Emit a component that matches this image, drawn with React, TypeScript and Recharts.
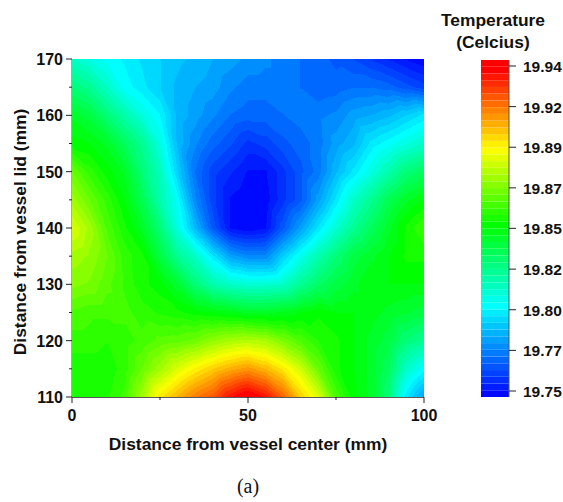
import { Bar, BarChart, Scatter, ScatterChart, XAxis, YAxis } from "recharts";

const xNodes = [0, 5, 10, 15, 20, 25, 30, 35, 40, 45, 50, 55, 60, 65, 70, 75, 80, 85, 90, 95, 100];
const yNodes = [170, 165, 160, 155, 150, 145, 140, 135, 130, 125, 120, 115, 110];

// temperature, one row per yNodes entry
const row170 = [19.81, 19.805, 19.8, 19.797, 19.793, 19.79, 19.787, 19.785, 19.782, 19.78, 19.777, 19.775, 19.772, 19.77, 19.768, 19.765, 19.762, 19.758, 19.754, 19.75, 19.747];
const row165 = [19.825, 19.82, 19.81, 19.8, 19.795, 19.79, 19.785, 19.782, 19.78, 19.775, 19.772, 19.772, 19.772, 19.77, 19.767, 19.768, 19.77, 19.77, 19.768, 19.764, 19.76];
const row160 = [19.84, 19.835, 19.825, 19.815, 19.806, 19.798, 19.785, 19.78, 19.775, 19.77, 19.768, 19.768, 19.77, 19.772, 19.773, 19.775, 19.78, 19.782, 19.785, 19.79, 19.795];
const row155 = [19.847, 19.845, 19.84, 19.83, 19.82, 19.805, 19.785, 19.775, 19.768, 19.763, 19.757, 19.76, 19.765, 19.768, 19.772, 19.78, 19.785, 19.795, 19.8, 19.805, 19.81];
const row150 = [19.865, 19.855, 19.847, 19.84, 19.825, 19.812, 19.79, 19.77, 19.76, 19.755, 19.75, 19.75, 19.757, 19.765, 19.772, 19.785, 19.795, 19.805, 19.815, 19.825, 19.83];
const row145 = [19.875, 19.865, 19.855, 19.845, 19.832, 19.815, 19.8, 19.775, 19.76, 19.75, 19.747, 19.748, 19.757, 19.765, 19.78, 19.795, 19.81, 19.82, 19.832, 19.84, 19.845];
const row140 = [19.885, 19.875, 19.86, 19.85, 19.84, 19.825, 19.805, 19.785, 19.765, 19.75, 19.747, 19.75, 19.765, 19.78, 19.795, 19.808, 19.82, 19.83, 19.84, 19.85, 19.857];
const row135 = [19.875, 19.872, 19.865, 19.855, 19.85, 19.835, 19.82, 19.81, 19.795, 19.78, 19.775, 19.775, 19.79, 19.803, 19.815, 19.825, 19.835, 19.84, 19.845, 19.85, 19.85];
const row130 = [19.87, 19.868, 19.862, 19.856, 19.85, 19.847, 19.838, 19.825, 19.815, 19.81, 19.808, 19.808, 19.81, 19.82, 19.828, 19.835, 19.84, 19.845, 19.845, 19.845, 19.845];
const row125 = [19.86, 19.858, 19.858, 19.858, 19.855, 19.852, 19.85, 19.847, 19.845, 19.843, 19.84, 19.84, 19.842, 19.845, 19.848, 19.845, 19.845, 19.843, 19.84, 19.838, 19.835];
const row120 = [19.855, 19.855, 19.853, 19.855, 19.858, 19.862, 19.863, 19.866, 19.872, 19.876, 19.878, 19.876, 19.868, 19.86, 19.853, 19.85, 19.845, 19.84, 19.835, 19.825, 19.82];
const row115 = [19.85, 19.85, 19.85, 19.855, 19.865, 19.875, 19.885, 19.893, 19.9, 19.906, 19.91, 19.904, 19.895, 19.883, 19.865, 19.85, 19.845, 19.84, 19.83, 19.81, 19.8];
const row110 = [19.85, 19.85, 19.852, 19.858, 19.875, 19.895, 19.905, 19.915, 19.922, 19.935, 19.943, 19.935, 19.92, 19.9, 19.885, 19.86, 19.847, 19.84, 19.825, 19.795, 19.78];
const grid = [row170, row165, row160, row155, row150, row145, row140, row135, row130, row125, row120, row115, row110];

const xTicks = [0, 25, 50, 75, 100];
const xLabelled = [0, 50, 100];
const yTicks = [110, 115, 120, 125, 130, 135, 140, 145, 150, 155, 160, 165, 170];
const yLabelled = [110, 120, 130, 140, 150, 160, 170];
const barTicks = [19.75, 19.77375, 19.7975, 19.82125, 19.8451, 19.86875, 19.8925, 19.91625, 19.94];

const TEMP_MIN = 19.7465;
const TEMP_MAX = 19.9435;
const BAND_COUNT = 50;
const BAND_STEP = (TEMP_MAX - TEMP_MIN) / BAND_COUNT;

const PLOT_W = 352;
const PLOT_H = 338;
const CELL_W = PLOT_W / (xNodes.length - 1);
const CELL_H = PLOT_H / (yNodes.length - 1);

const FONT = "'Liberation Sans', Arial, sans-serif";

const STOPS: [number, number[]][] = [
  [0, [0, 0, 255]],
  [0.27, [0, 255, 255]],
  [0.51, [0, 255, 0]],
  [0.735, [255, 255, 0]],
  [0.97, [255, 0, 0]],
  [1, [255, 0, 0]],
];

function bandColor(i: number) {
  const t = (i + 0.5) / BAND_COUNT;
  for (let s = 1; s < STOPS.length; s++) {
    if (t <= STOPS[s][0]) {
      const [t0, c0] = STOPS[s - 1];
      const [t1, c1] = STOPS[s];
      const k = (t - t0) / (t1 - t0);
      const c = c0.map((a, j) => Math.round(a + (c1[j] - a) * k));
      return `rgb(${c[0]},${c[1]},${c[2]})`;
    }
  }
  return "rgb(255,0,0)";
}
const bandColors = Array.from({ length: BAND_COUNT }, (_, i) => bandColor(i));

type Corner = { px: number; py: number; v: number };

// keep the part of a triangle/polygon where the temperature is above level
function clipAbove(poly: Corner[], level: number) {
  const out: Corner[] = [];
  poly.forEach((a, i) => {
    const b = poly[(i + 1) % poly.length];
    if (a.v >= level) out.push(a);
    if (a.v >= level !== b.v >= level) {
      const k = (level - a.v) / (b.v - a.v);
      out.push({ px: a.px + (b.px - a.px) * k, py: a.py + (b.py - a.py) * k, v: level });
    }
  });
  return out;
}

function triangleBands(tri: Corner[], key: string) {
  const paths = [];
  for (let i = 0; i < BAND_COUNT; i++) {
    const level = TEMP_MIN + i * BAND_STEP;
    const poly = i === 0 ? tri : clipAbove(tri, level);
    if (poly.length < 3) break;
    const pts = poly.map((p) => `${p.px.toFixed(2)},${p.py.toFixed(2)}`).join(" ");
    paths.push(<polygon key={key + i} points={pts} fill={bandColors[i]} shapeRendering="crispEdges" />);
  }
  return paths;
}

// each point is the top-left node of one grid cell, placed by the chart's scales
function CellShape(props: any) {
  const { cx, cy, payload } = props;
  const { r, c } = payload;
  const tl = { px: cx, py: cy, v: grid[r][c] };
  const tr = { px: cx + CELL_W, py: cy, v: grid[r][c + 1] };
  const bl = { px: cx, py: cy + CELL_H, v: grid[r + 1][c] };
  const br = { px: cx + CELL_W, py: cy + CELL_H, v: grid[r + 1][c + 1] };
  return (
    <g>
      {triangleBands([tl, tr, br], "a")}
      {triangleBands([tl, br, bl], "b")}
    </g>
  );
}

const cells = yNodes.slice(0, -1).flatMap((y, r) =>
  xNodes.slice(0, -1).map((x, c) => ({ x, y, r, c })),
);

const barRow = [
  Object.fromEntries(
    bandColors.map((_, i) => [`b${i}`, i === 0 ? TEMP_MIN + BAND_STEP : BAND_STEP]),
  ),
];

function XTick({ x, y, payload }: any) {
  const major = xLabelled.includes(payload.value);
  return (
    <g>
      <line x1={x} x2={x} y1={y} y2={y + (major ? 6 : 3)} stroke="#222" strokeWidth={1} />
      {major && (
        <text x={x} y={y + 24} textAnchor="middle" fontFamily={FONT} fontWeight={700} fontSize={16} fill="#111">
          {payload.value}
        </text>
      )}
    </g>
  );
}

function YTick({ x, y, payload }: any) {
  const major = yLabelled.includes(payload.value);
  return (
    <g>
      <line x1={x} x2={x - (major ? 6 : 3)} y1={y} y2={y} stroke="#222" strokeWidth={1} />
      {major && (
        <text x={x - 9} y={y + 6} textAnchor="end" fontFamily={FONT} fontWeight={700} fontSize={16} fill="#111">
          {payload.value}
        </text>
      )}
    </g>
  );
}

function BarTick({ x, y, payload }: any) {
  return (
    <g>
      <line x1={x} x2={x + 7} y1={y} y2={y} stroke="#222" strokeWidth={1} />
      <text x={x + 14} y={y + 6} textAnchor="start" fontFamily={FONT} fontWeight={700} fontSize={15.5} fill="#111">
        {payload.value.toFixed(2)}
      </text>
    </g>
  );
}

const titleStyle = { fontFamily: FONT, fontWeight: 700, fontSize: 17.4, fill: "#111" };

export default function App() {
  return (
    <div style={{ position: "absolute", left: 0, top: 0, width: 563, height: 502, background: "#fff" }}>
      <ScatterChart width={563} height={502} margin={{ top: 59, right: 139, bottom: 65, left: 0 }}>
        <XAxis
          type="number"
          dataKey="x"
          domain={[0, 100]}
          ticks={xTicks}
          interval={0}
          height={40}
          tickSize={0}
          tickMargin={0}
          tickLine={false}
          tick={<XTick />}
          axisLine={{ stroke: "#222", strokeWidth: 1.5 }}
          label={{ value: "Distance from vessel center (mm)", position: "bottom", offset: 1, style: titleStyle }}
        />
        <XAxis xAxisId="top" orientation="top" type="number" domain={[0, 100]} height={0} tick={false} axisLine={{ stroke: "#222", strokeWidth: 1.5 }} />
        <YAxis
          type="number"
          dataKey="y"
          domain={[110, 170]}
          ticks={yTicks}
          interval={0}
          width={72}
          tickSize={0}
          tickMargin={0}
          tickLine={false}
          tick={<YTick />}
          axisLine={{ stroke: "#555", strokeWidth: 1 }}
          label={{ value: "Distance from vessel lid (mm)", angle: -90, position: "insideLeft", offset: 20, dy: 4, style: { ...titleStyle, textAnchor: "middle" } }}
        />
        <YAxis yAxisId="right" orientation="right" type="number" domain={[110, 170]} width={0} tick={false} axisLine={{ stroke: "#666", strokeWidth: 1 }} />
        <Scatter data={cells} shape={<CellShape />} isAnimationActive={false} />
      </ScatterChart>

      <div style={{ position: "absolute", left: 481, top: 40 }}>
        <BarChart width={82} height={377} data={barRow} margin={{ top: 20, right: 0, bottom: 20, left: 0 }} barCategoryGap={0} barGap={0}>
          <XAxis dataKey={() => "t"} hide />
          <YAxis yAxisId="left" orientation="left" type="number" domain={[TEMP_MIN, TEMP_MAX]} width={0} tick={false} axisLine={{ stroke: "#666", strokeWidth: 1.5 }} />
          <YAxis
            orientation="right"
            type="number"
            domain={[TEMP_MIN, TEMP_MAX]}
            allowDataOverflow
            ticks={barTicks}
            interval={0}
            width={54}
            tickSize={0}
            tickMargin={0}
            tickLine={false}
            tick={<BarTick />}
            axisLine={{ stroke: "#555", strokeWidth: 1 }}
          />
          {bandColors.map((color, i) => (
            <Bar key={i} dataKey={`b${i}`} stackId="temp" fill={color} isAnimationActive={false} />
          ))}
        </BarChart>
      </div>

      <div style={{ position: "absolute", left: 423, top: 9, width: 140, textAlign: "center", fontFamily: FONT, fontWeight: 700, fontSize: 17.4, lineHeight: "22px", color: "#111" }}>
        Temperature
        <br />
        (Celcius)
      </div>
      <div style={{ position: "absolute", left: 208, top: 475, width: 80, textAlign: "center", fontFamily: "'Liberation Serif', serif", fontSize: 20, color: "#111" }}>
        (a)
      </div>
    </div>
  );
}
